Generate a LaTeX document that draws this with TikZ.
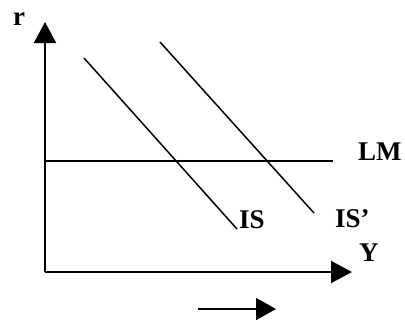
\documentclass[tikz,border=0pt]{standalone}
\usepackage{fontspec}
\setmainfont{Liberation Serif}
\usetikzlibrary{arrows.meta}
\begin{document}
\begin{tikzpicture}[x=1pt,y=-1pt,
  lbl/.style={anchor=base west,inner sep=0pt,font=\fontsize{27}{30}\selectfont\bfseries},
  axis/.style={line width=2pt,-{Triangle[length=21pt,width=22pt]}},
  curve/.style={line width=1.5pt},
  shiftarrow/.style={line width=1.7pt,-{Triangle[length=20pt,width=22pt]}}]
\useasboundingbox (0,0) rectangle (405,322);
\coordinate (O) at (45,272);
\coordinate (rtip) at (45,22);
\coordinate (ytip) at (352,272);
\coordinate (lmA) at (45,161);
\coordinate (lmB) at (333,161);
\coordinate (isA) at (84,58);
\coordinate (isB) at (237,229);
\coordinate (ispA) at (160,42);
\coordinate (ispB) at (314,213);
\coordinate (shA) at (198,309);
\coordinate (shB) at (276,309);
\draw[axis] (O) -- (rtip);
\draw[axis] (O) -- (ytip);
\draw[curve] (lmA) -- (lmB);
\draw[curve] (isA) -- (isB);
\draw[curve] (ispA) -- (ispB);
\draw[shiftarrow] (shA) -- (shB);
\node[lbl] (r) at (13,25) {r};
\node[lbl] (Y) at (359,261) {Y};
\node[lbl] (LM) at (358,160) {LM};
\node[lbl] (IS) at (239,228) {IS};
\node[lbl] (ISp) at (335,227) {IS’};
\end{tikzpicture}
\end{document}
